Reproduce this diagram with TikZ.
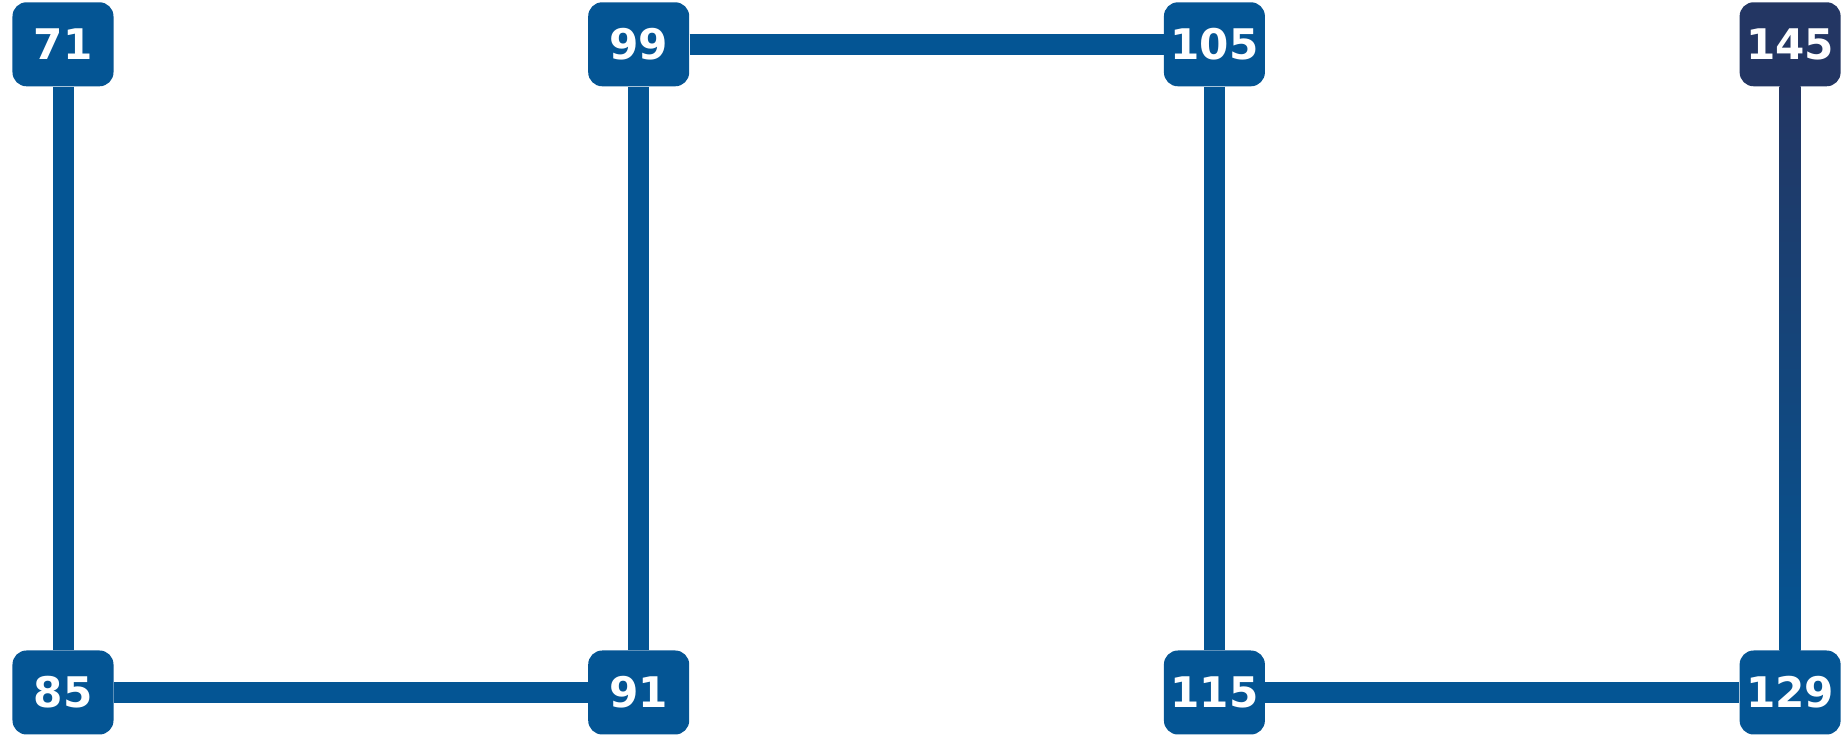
\documentclass[tikz,border=0pt]{standalone}
\usepackage{fontspec}
\setmainfont{DejaVu Sans}
\usetikzlibrary{
  positioning,
  calc,
  backgrounds
}
\definecolor{stopcolor}{RGB}{4, 85, 148}
\definecolor{endcolor}{RGB}{35, 54, 99}
\tikzset{
stopbox/.style={
  rectangle,
  rounded corners=0.28cm,
  fill=stopcolor,
  minimum width=2.02cm,
  minimum height=1.68cm,
  inner sep=0pt,
  text=white,
  font=\fontsize{24}{24}\selectfont\bfseries
},
endbox/.style={
  stopbox,
  fill=endcolor
},
link/.style={
  draw=stopcolor,
  line width=0.42cm
}
}

\begin{document}
\begin{tikzpicture}[node distance=11.27cm and 9.48cm]
  \useasboundingbox (0,0) rectangle (36.84,14.7);
  % bottom row
  \node[stopbox] (n85) at (1.26,0.85) {85};
  \node[stopbox, right=of n85] (n91) {91};
  \node[stopbox, right=of n91] (n115) {115};
  \node[stopbox, right=of n115] (n129) {129};
  % top row
  \node[stopbox, above=of n85] (n71) {71};
  \node[stopbox, above=of n91] (n99) {99};
  \node[stopbox, above=of n115] (n105) {105};
  \node[endbox, above=of n129] (n145) {145};
  % connectors
  \begin{scope}[on background layer]
    \draw[link] (n71) -- (n85);
    \draw[link] (n85) -- (n91);
    \draw[link] (n91) -- (n99);
    \draw[link] (n99) -- (n105);
    \draw[link] (n105) -- (n115);
    \draw[link] (n115) -- (n129);
    \shade[top color=endcolor, middle color=stopcolor, bottom color=stopcolor]
      ($(n145.south)+(-0.21,0)$) rectangle ($(n129.north)+(0.21,0)$);
  \end{scope}
\end{tikzpicture}
\end{document}
